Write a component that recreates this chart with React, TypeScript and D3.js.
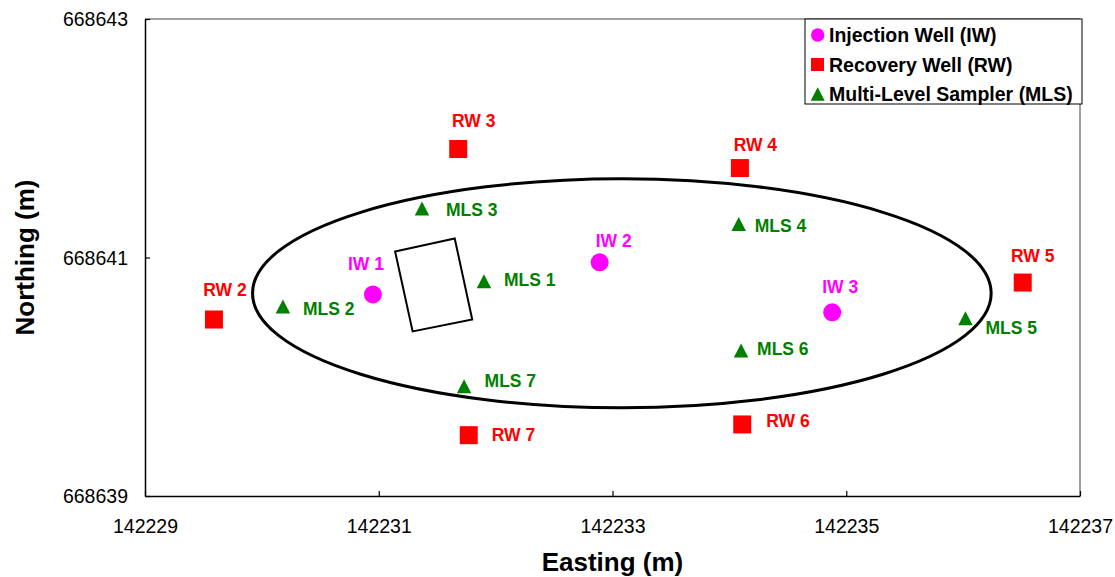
import React, { useRef, useEffect } from 'react';
import * as d3 from 'd3';

// well / sampler locations (Easting, Northing in m)
const injectionWells = ['IW 1', 'IW 2', 'IW 3'];
const injectionEasting = [142230.95, 142232.89, 142234.88];
const injectionNorthing = [668640.69, 668640.96, 668640.54];

const recoveryWells = ['RW 2', 'RW 3', 'RW 4', 'RW 5', 'RW 6', 'RW 7'];
const recoveryEasting = [142229.59, 142231.68, 142234.09, 142236.51, 142234.11, 142231.77];
const recoveryNorthing = [668640.48, 668641.91, 668641.75, 668640.79, 668639.6, 668639.51];

const samplers = ['MLS 1', 'MLS 2', 'MLS 3', 'MLS 4', 'MLS 5', 'MLS 6', 'MLS 7'];
const samplerEasting = [142231.9, 142230.18, 142231.37, 142234.08, 142236.02, 142234.1, 142231.73];
const samplerNorthing = [668640.8, 668640.59, 668641.41, 668641.28, 668640.49, 668640.22, 668639.92];

// treatment zone outline and the tilted building footprint
const zoneEasting = 142233.08;
const zoneNorthing = 668640.7;
const zoneHalfWidth = 3.16;
const zoneHalfHeight = 0.96;
const boxEasting = [142231.14, 142231.65, 142231.8, 142231.29];
const boxNorthing = [668641.05, 668641.16, 668640.48, 668640.38];

const xTicks = [142229, 142231, 142233, 142235, 142237];
const yTicks = [668639, 668641, 668643];

const legendLabels = ['Injection Well (IW)', 'Recovery Well (RW)', 'Multi-Level Sampler (MLS)'];

// label placement next to each marker (px offset, anchor)
const iwLabelPos = [[-7, -24, 'middle'], [14, -15.5, 'middle'], [8, -19, 'middle']];
const rwLabelPos = [
  [11, -24, 'middle'], [15.5, -22, 'middle'], [15.5, -17, 'middle'],
  [10, -20.5, 'middle'], [24, 3, 'start'], [23, 5.5, 'start'],
];
const mlsLabelPos = [
  [20, 5, 'start'], [20, 9, 'start'], [24, 7.5, 'start'], [16, 8, 'start'],
  [20, 16, 'start'], [16, 4, 'start'], [20.5, 0.5, 'start'],
];

const MAGENTA = '#FF00FF';
const RED = '#FF0000';
const GREEN = '#008000';
const FONT = 'Arial, "Liberation Sans", sans-serif';

const triangle = (w: number, h: number) =>
  `M0,${-h / 2}L${w / 2},${h / 2}L${-w / 2},${h / 2}Z`;

const WellMap = () => {
  const svgRef = useRef<SVGSVGElement>(null);
  const width = 1115;
  const height = 577;
  const plot = { left: 145, right: 1080, top: 19, bottom: 496 };

  useEffect(() => {
    const svg = d3.select(svgRef.current);
    svg.selectAll('*').remove();

    const x = d3.scaleLinear().domain([142229, 142237]).range([plot.left, plot.right]);
    const y = d3.scaleLinear().domain([668639, 668643]).range([plot.bottom, plot.top]);

    // plot frame: gray top/right, black axes
    svg.append('line')
      .attr('x1', plot.left).attr('x2', plot.right).attr('y1', plot.top).attr('y2', plot.top)
      .attr('stroke', '#808080').attr('stroke-width', 1.5);
    svg.append('line')
      .attr('x1', plot.right).attr('x2', plot.right).attr('y1', plot.top).attr('y2', plot.bottom)
      .attr('stroke', '#808080').attr('stroke-width', 1.5);

    const xAxis = svg.append('g')
      .attr('transform', `translate(0, ${plot.bottom})`)
      .call(d3.axisBottom(x).tickValues(xTicks).tickSizeInner(-5).tickSizeOuter(0).tickFormat(d3.format('d')));
    const yAxis = svg.append('g')
      .attr('transform', `translate(${plot.left}, 0)`)
      .call(d3.axisLeft(y).tickValues(yTicks).tickSizeInner(-5).tickSizeOuter(0).tickFormat(d3.format('d')));

    [xAxis, yAxis].forEach((g) => {
      g.select('.domain').attr('stroke', '#000').attr('stroke-width', 1.5);
      g.selectAll('.tick line').attr('stroke', '#000').attr('stroke-width', 1.2);
      g.selectAll('.tick text')
        .attr('font-family', FONT).attr('font-size', 19.5).attr('fill', '#000');
    });
    xAxis.selectAll('.tick text').attr('y', 0).attr('dy', 0).attr('transform', 'translate(0, 37)');
    yAxis.selectAll('.tick text').attr('x', -17).attr('dy', '0.35em');

    // treatment zone ellipse
    svg.append('ellipse')
      .attr('cx', x(zoneEasting)).attr('cy', y(zoneNorthing))
      .attr('rx', x(zoneEasting + zoneHalfWidth) - x(zoneEasting))
      .attr('ry', y(zoneNorthing) - y(zoneNorthing + zoneHalfHeight))
      .attr('fill', 'none').attr('stroke', '#000').attr('stroke-width', 3);

    const box = boxEasting.map((e, i) => [x(e), y(boxNorthing[i])] as [number, number]);
    svg.append('path')
      .attr('d', d3.line()(box) + 'Z')
      .attr('fill', 'none').attr('stroke', '#000').attr('stroke-width', 2);

    const addLabels = (names: string[], xs: number[], ys: number[], pos: any[], color: string) => {
      names.forEach((name, i) => {
        svg.append('text')
          .attr('x', x(xs[i]) + pos[i][0]).attr('y', y(ys[i]) + pos[i][1])
          .attr('text-anchor', pos[i][2])
          .attr('font-family', FONT).attr('font-weight', 'bold').attr('font-size', 17.5)
          .attr('fill', color)
          .text(name);
      });
    };

    // markers
    svg.append('g').selectAll('circle')
      .data(injectionWells)
      .join('circle')
      .attr('cx', (_, i) => x(injectionEasting[i]))
      .attr('cy', (_, i) => y(injectionNorthing[i]))
      .attr('r', 9)
      .attr('fill', MAGENTA);

    svg.append('g').selectAll('rect')
      .data(recoveryWells)
      .join('rect')
      .attr('x', (_, i) => x(recoveryEasting[i]) - 9)
      .attr('y', (_, i) => y(recoveryNorthing[i]) - 9)
      .attr('width', 18).attr('height', 18)
      .attr('fill', RED);

    svg.append('g').selectAll('path')
      .data(samplers)
      .join('path')
      .attr('transform', (_, i) => `translate(${x(samplerEasting[i])}, ${y(samplerNorthing[i])})`)
      .attr('d', triangle(14.5, 14))
      .attr('fill', GREEN);

    addLabels(injectionWells, injectionEasting, injectionNorthing, iwLabelPos, MAGENTA);
    addLabels(recoveryWells, recoveryEasting, recoveryNorthing, rwLabelPos, RED);
    addLabels(samplers, samplerEasting, samplerNorthing, mlsLabelPos, GREEN);

    // axis titles
    svg.append('text')
      .attr('x', (plot.left + plot.right) / 2).attr('y', 571)
      .attr('text-anchor', 'middle')
      .attr('font-family', FONT).attr('font-weight', 'bold').attr('font-size', 26)
      .text('Easting (m)');
    svg.append('text')
      .attr('transform', `translate(33.5, ${(plot.top + plot.bottom) / 2}) rotate(-90)`)
      .attr('text-anchor', 'middle')
      .attr('font-family', FONT).attr('font-weight', 'bold').attr('font-size', 26)
      .text('Northing (m)');

    // legend
    const legend = svg.append('g').attr('transform', 'translate(805, 19)');
    legend.append('rect')
      .attr('width', 277).attr('height', 85)
      .attr('fill', '#fff').attr('stroke', '#000').attr('stroke-width', 1);
    const rowY = [16, 45.5, 75];
    legend.append('circle').attr('cx', 12.7).attr('cy', rowY[0]).attr('r', 6.7).attr('fill', MAGENTA);
    legend.append('rect').attr('x', 6).attr('y', rowY[1] - 6.5).attr('width', 13).attr('height', 13).attr('fill', RED);
    legend.append('path')
      .attr('transform', `translate(12.7, ${rowY[2]})`)
      .attr('d', triangle(14, 13.5)).attr('fill', GREEN);
    legendLabels.forEach((label, i) => {
      legend.append('text')
        .attr('x', 24).attr('y', rowY[i] + 7)
        .attr('font-family', FONT).attr('font-weight', 'bold').attr('font-size', 19.5)
        .text(label);
    });
  }, []);

  return (
    <svg
      ref={svgRef}
      width={width}
      height={height}
      style={{ position: 'absolute', left: 0, top: 0, background: '#fff' }}
    />
  );
};

export default function App() {
  return <WellMap />;
}
